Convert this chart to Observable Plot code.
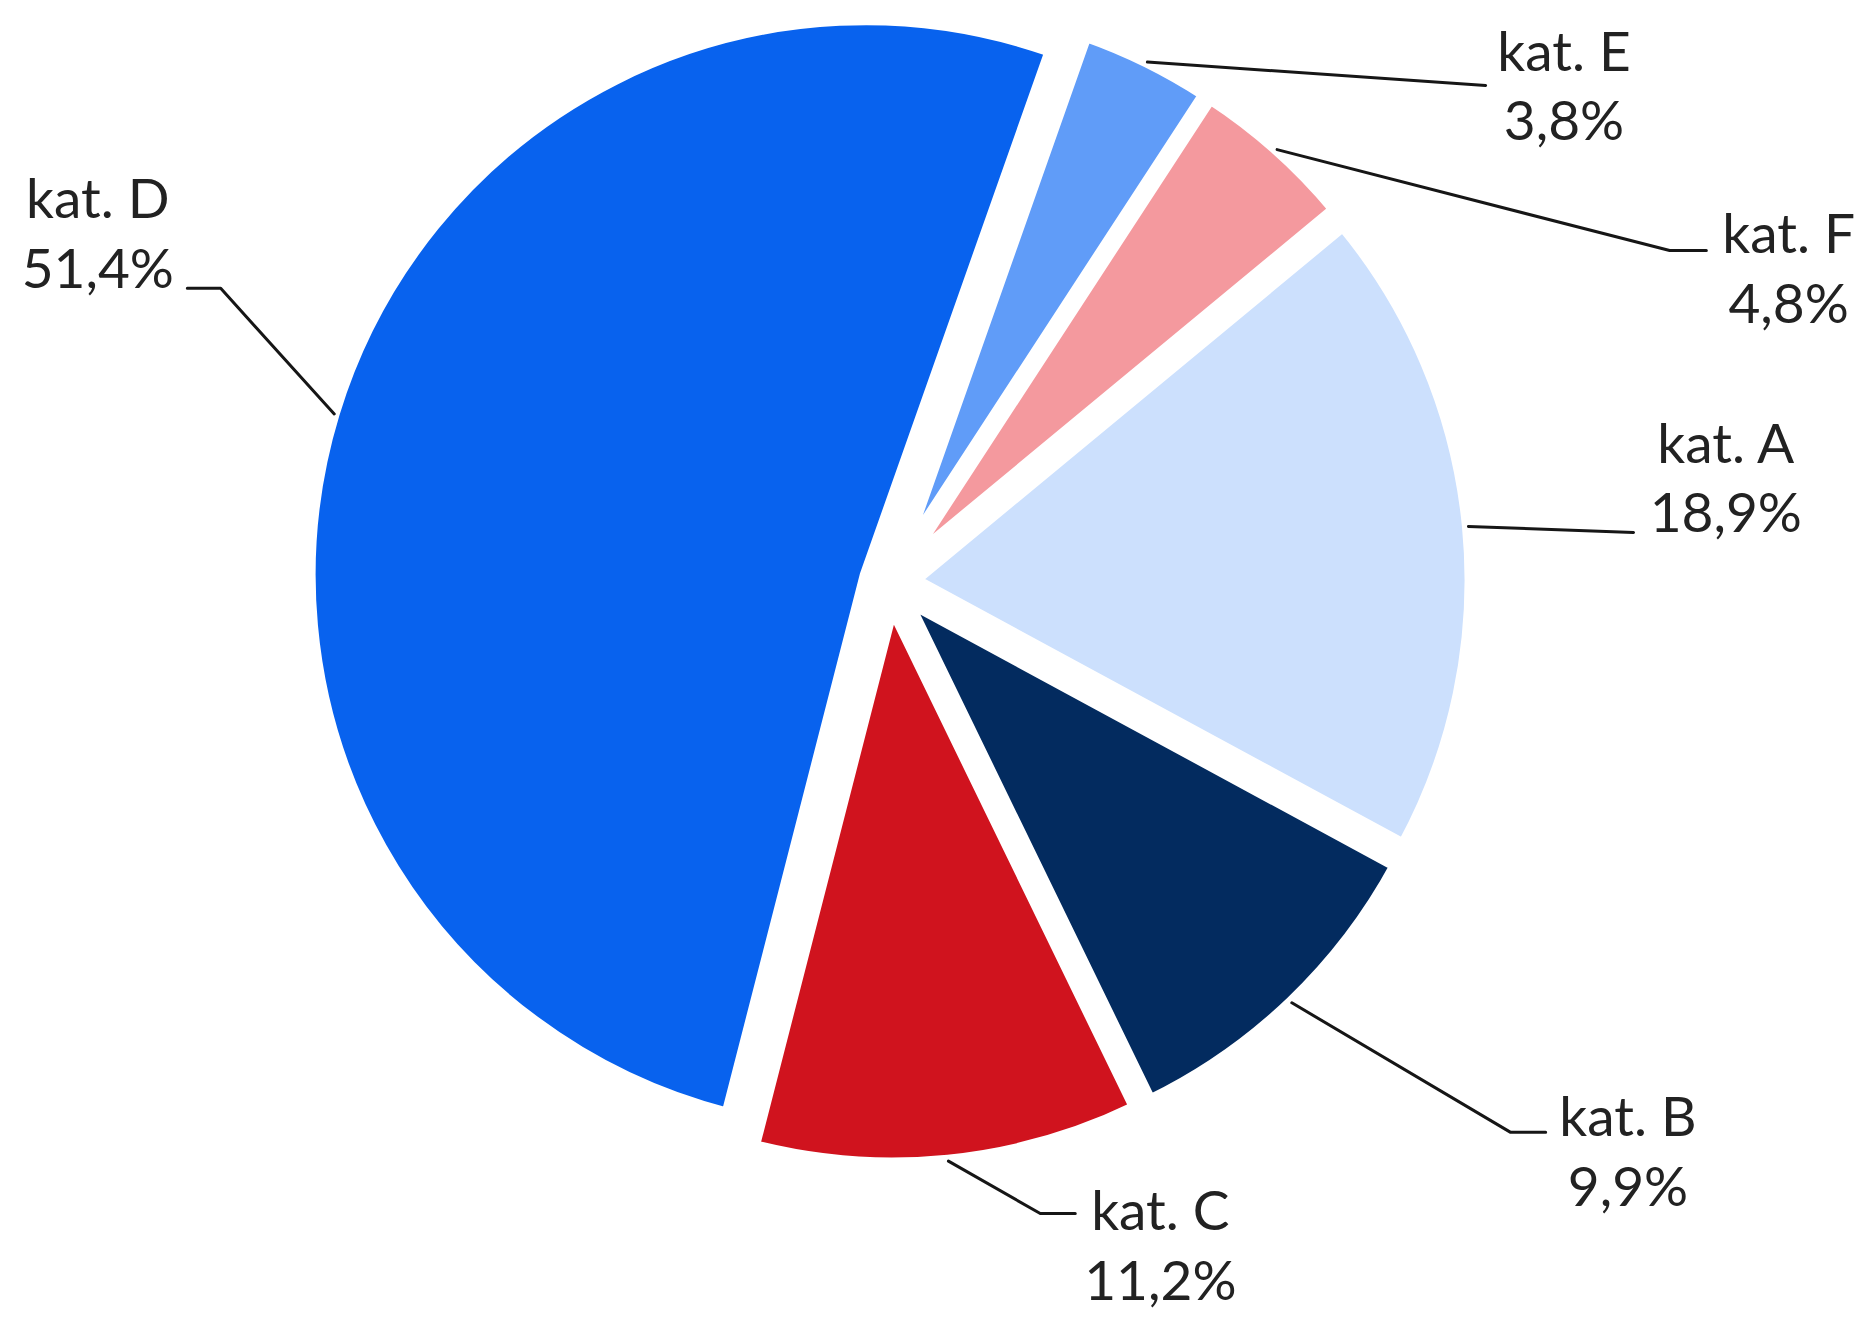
<!DOCTYPE html>
<html>
<head>
<meta charset="utf-8">
<script src="https://cdn.jsdelivr.net/npm/d3@7"></script>
<script src="https://cdn.jsdelivr.net/npm/@observablehq/plot@0.6"></script>
<style>
  html, body { margin: 0; padding: 0; background: #fff; }
  #chart { width: 1876px; height: 1325px; }
</style>
</head>
<body>
<div id="chart"></div>
<script>
// ---- data ----
const categories = ["kat. A", "kat. B", "kat. C", "kat. D", "kat. E", "kat. F"];
const shares = [18.9, 9.9, 11.2, 51.4, 3.8, 4.8];
const shareLabels = ["18,9%", "9,9%", "11,2%", "51,4%", "3,8%", "4,8%"];

// ---- styles ----
const colors = ["#cce0fd", "#032b5f", "#d0131e", "#0862ee", "#609cf8", "#f4999e"];

// ---- layout (in pie-radius units, pie centre at 0,0) ----
const startAngleDeg = 50.4;
const explode = 0.045;
const leaderRadius = 1.0;
const elbows = [[1.337, 0.091], [1.116, -0.988], [0.270, -1.134], [-1.204, 0.530], [1.071, 0.895], [1.402, 0.598]];
const ends   = [[1.337, 0.091], [1.179, -0.988], [0.333, -1.134], [-1.264, 0.530], [1.071, 0.895], [1.468, 0.598]];
const labelPos = [[1.503, 0.091], [1.327, -1.120], [0.486, -1.290], [-1.425, 0.530], [1.212, 0.796], [1.616, 0.4685]];

const a0 = startAngleDeg * Math.PI / 180;
const arcs = d3.pie().sort(null).startAngle(a0).endAngle(a0 + 2 * Math.PI)(shares);
const midAngle = a => (a.startAngle + a.endAngle) / 2;

const leaderPoints = [];
arcs.forEach((a, i) => {
  const m = midAngle(a);
  const k = explode + leaderRadius;
  leaderPoints.push({cat: categories[i], x: k * Math.sin(m), y: k * Math.cos(m)});
  leaderPoints.push({cat: categories[i], x: elbows[i][0], y: elbows[i][1]});
  leaderPoints.push({cat: categories[i], x: ends[i][0], y: ends[i][1]});
});

const labels = categories.map((c, i) => ({
  text: c + "\n" + shareLabels[i],
  x: labelPos[i][0],
  y: labelPos[i][1]
}));

function slices(index, scales) {
  const cx = scales.x(0), cy = scales.y(0);
  const r = scales.x(1) - cx;
  const arcGen = d3.arc().innerRadius(0).outerRadius(r);
  const g = d3.create("svg:g");
  arcs.forEach((a, i) => {
    const m = midAngle(a);
    const dx = explode * r * Math.sin(m);
    const dy = -explode * r * Math.cos(m);
    g.append("path")
      .attr("d", arcGen(a))
      .attr("transform", `translate(${cx + dx},${cy + dy})`)
      .attr("fill", colors[i])
      .attr("stroke", "#fff")
      .attr("stroke-width", 12);
  });
  return g.node();
}

const chart = Plot.plot({
  width: 1876,
  height: 1325,
  margin: 0,
  x: {domain: [-1.600, 1.774], axis: null},
  y: {domain: [-1.3354, 1.0477], axis: null},
  style: {fontFamily: "Lato, 'Open Sans', sans-serif", background: "#fff"},
  marks: [
    slices,
    Plot.line(leaderPoints, {x: "x", y: "y", z: "cat", stroke: "#161616", strokeWidth: 3}),
    Plot.text(labels, {
      x: "x", y: "y", text: "text",
      textAnchor: "middle", lineAnchor: "bottom", lineHeight: 1.27,
      fontSize: 55, fill: "#222"
    })
  ]
});
document.getElementById("chart").appendChild(chart);
</script>
</body>
</html>
